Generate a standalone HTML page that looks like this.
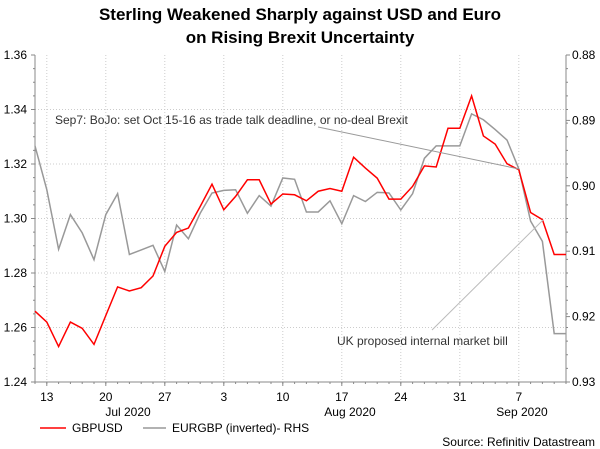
<!DOCTYPE html>
<html><head><meta charset="utf-8"><style>
body{margin:0;background:#fff;}
svg{display:block;font-family:"Liberation Sans",Arial,sans-serif;}
</style></head><body>
<svg id="chart" width="600" height="449" viewBox="0 0 600 449">
<text x="300" y="20" text-anchor="middle" font-size="17" font-weight="bold">Sterling Weakened Sharply against USD and Euro</text>
<text x="300" y="43" text-anchor="middle" font-size="17" font-weight="bold">on Rising Brexit Uncertainty</text>
<g id="grid"></g><g id="axes"></g><g id="series"></g>
<line x1="318" y1="127" x2="519" y2="169" stroke="#999" stroke-width="1"/>
<text x="55" y="124" font-size="12" fill="#333">Sep7: BoJo: set Oct 15-16 as trade talk deadline, or no-deal Brexit</text>
<line x1="432" y1="330" x2="543" y2="220" stroke="#bbb" stroke-width="1"/>
<text x="337" y="345" font-size="12" fill="#333">UK proposed internal market bill</text>
<text x="128" y="416" text-anchor="middle" font-size="12">Jul 2020</text>
<text x="350" y="416" text-anchor="middle" font-size="12">Aug 2020</text>
<text x="522" y="416" text-anchor="middle" font-size="12">Sep 2020</text>
<line x1="40" y1="428" x2="66" y2="428" stroke="#f00" stroke-width="1.5"/>
<text x="72" y="432" font-size="12">GBPUSD</text>
<line x1="143" y1="428" x2="166" y2="428" stroke="#999" stroke-width="1.5"/>
<text x="172" y="432" font-size="12">EURGBP (inverted)- RHS</text>
<text x="595" y="446" text-anchor="end" font-size="12">Source: Refinitiv Datastream</text>
</svg>
<script>
const gbpusd=[1.266,1.262,1.253,1.262,1.2597,1.2538,1.2644,1.2749,1.2734,1.2746,1.2789,1.2898,1.2949,1.2965,1.3044,1.3126,1.3032,1.3081,1.3142,1.3142,1.3053,1.309,1.3087,1.3065,1.31,1.311,1.31,1.3225,1.3185,1.3148,1.3071,1.3071,1.3118,1.3193,1.3189,1.3331,1.3331,1.345,1.3303,1.3273,1.3201,1.3179,1.3022,1.2996,1.2868,1.2868];
const eurgbp=[0.8939,0.9006,0.9097,0.9044,0.9072,0.9113,0.9044,0.9012,0.9105,0.9098,0.9091,0.9131,0.906,0.9081,0.9042,0.9011,0.9007,0.9006,0.9042,0.9015,0.9031,0.8988,0.899,0.904,0.904,0.9023,0.9058,0.9015,0.9024,0.901,0.9011,0.9037,0.9012,0.8958,0.8939,0.8939,0.8939,0.889,0.8899,0.8914,0.893,0.8974,0.9054,0.9085,0.9226,0.9226];
const xTickIdx=[1,6,11,16,21,26,31,36,41];
const xTickLabels=["13","20","27","3","10","17","24","31","7"];
const leftTicks=[1.24,1.26,1.28,1.30,1.32,1.34,1.36];
const rightTicks=[0.88,0.89,0.90,0.91,0.92,0.93];
const NS='http://www.w3.org/2000/svg';
const X0=35,X1=566,Y0=55,Y1=382;
const nPts=gbpusd.length;
const x=i=>X0+i*(X1-X0)/(nPts-1);
const yL=v=>Y1-(v-1.24)/(0.12)*(Y1-Y0);
const yR=v=>Y0+(v-0.88)/(0.05)*(Y1-Y0);
function mk(tag,attrs,parent,text){const e=document.createElementNS(NS,tag);for(const k in attrs)e.setAttribute(k,attrs[k]);if(text!==undefined)e.textContent=text;document.getElementById(parent).appendChild(e);return e;}
leftTicks.forEach((v,i)=>{
 if(i>0&&i<leftTicks.length-1){const g=mk('line',{x1:X0,x2:X1,y1:yL(v),y2:yL(v),stroke:'#ccc','stroke-dasharray':'1,2'},'grid');
 
 }
 const t=mk('text',{x:X0-8,y:yL(v)+4,'text-anchor':'end','font-size':12},'axes',v.toFixed(2));
 
 
 mk('line',{x1:X0-4,x2:X0,y1:yL(v),y2:yL(v),stroke:'#888'},'axes');
});
for(let k=0;k<=24;k++){const yy=Y0+k*(Y1-Y0)/24;mk('line',{x1:X0-2,x2:X0,y1:yy,y2:yy,stroke:'#888'},'axes');mk('line',{x1:X1,x2:X1+2,y1:yy,y2:yy,stroke:'#888'},'axes');}
rightTicks.forEach(v=>{
 const t=mk('text',{x:X1+6,y:yR(v)+4,'font-size':12},'axes',v.toFixed(2));
 
 
 mk('line',{x1:X1,x2:X1+4,y1:yR(v),y2:yR(v),stroke:'#888'},'axes');
});
xTickIdx.forEach((idx,i)=>{
 const g=mk('line',{x1:x(idx),x2:x(idx),y1:Y0,y2:Y1,stroke:'#ccc','stroke-dasharray':'1,2'},'grid');
 
 
 mk('line',{x1:x(idx),x2:x(idx),y1:Y1,y2:Y1+4,stroke:'#888'},'axes');
 const t=mk('text',{x:x(idx),y:401,'text-anchor':'middle','font-size':12},'axes',xTickLabels[i]);
 
 
});
for(let i=0;i<nPts;i++)mk('line',{x1:x(i),x2:x(i),y1:Y1,y2:Y1+2,stroke:'#888'},'axes');
const la=mk('line',{x1:X0,x2:X0,y1:Y0,y2:Y1,stroke:'#888'},'axes');


const ra=mk('line',{x1:X1,x2:X1,y1:Y0,y2:Y1,stroke:'#888'},'axes');


const xa=mk('line',{x1:X0,x2:X1,y1:Y1,y2:Y1,stroke:'#888'},'axes');


const pg=mk('polyline',{points:eurgbp.map((v,i)=>x(i)+','+yR(v)).join(' '),fill:'none',stroke:'#999','stroke-width':1.5},'series');


const pr=mk('polyline',{points:gbpusd.map((v,i)=>x(i)+','+yL(v)).join(' '),fill:'none',stroke:'#f00','stroke-width':1.5},'series');


</script>
</body></html>
